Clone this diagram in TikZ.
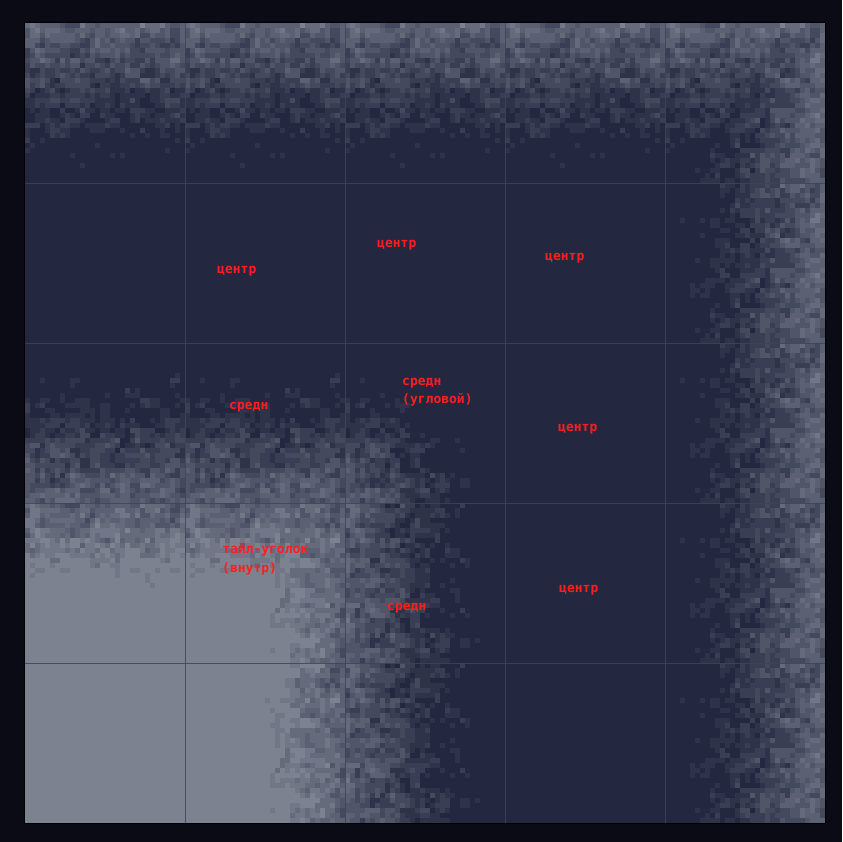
\documentclass[tikz,border=0pt]{standalone}
\usepackage{fontspec}
\newfontfamily\lblfont{DejaVu Sans Mono}
\definecolor{outerbg}{RGB}{11,11,22}
\definecolor{tdark}{RGB}{35,40,64}
\definecolor{tlight}{RGB}{124,130,144}
\colorlet{lv1}{tlight!12.5!tdark}
\colorlet{lv2}{tlight!25!tdark}
\colorlet{lv3}{tlight!37.5!tdark}
\colorlet{lv4}{tlight!50!tdark}
\colorlet{lv5}{tlight!62.5!tdark}
\colorlet{lv6}{tlight!75!tdark}
\colorlet{lv7}{tlight!87.5!tdark}
\colorlet{lv8}{tlight}
\definecolor{gridc}{RGB}{63,68,88}
\definecolor{lblred}{RGB}{255,30,30}
\tikzset{
  gridline/.style={draw=gridc, draw opacity=0.85, line width=1pt},
  frameline/.style={draw=black, line width=1pt},
  lbl/.style={text=lblred, font=\lblfont\bfseries\fontsize{13}{18.5}\selectfont,
    inner sep=0pt, anchor=base west, align=left}
}
% ---------- integer tools ----------
\newcount\ci \newcount\cj \newcount\ha \newcount\hb \newcount\hc
\newcount\cX \newcount\cY \newcount\cv \newcount\cl
\newcount\dx \newcount\dy \newcount\rl \newcount\rs \newcount\tv
\def\imodto#1#2#3{#1=\numexpr #2\relax #1=\numexpr #1-(#3)*((#1-((#3)-1)/2)/(#3))\relax}
\def\hashto#1#2#3#4{%
  \imodto#1{(#2)*1973+(#3)*9277+#4}{46337}%
  \imodto#1{#1*#1+(#2)*31+7}{46337}%
  \imodto#1{#1*#1+(#3)*17+3}{46337}%
  #1=\numexpr #1*1000/46337\relax}
\def\NZA{370}
\def\nzval{%
  \hashto\ha{\ci}{\cj}{12345}%
  \hashto\hb{(\ci/2)}{(\cj/2)}{777}%
  \hashto\hc{(\ci/3)}{(\cj/3)}{4242}%
  \expandafter\xdef\csname nz\the\ci:\the\cj\endcsname{\the\numexpr((\ha*35+\hb*40+\hc*25)/100-500)*\NZA/500\relax}}
\def\nzrow{\ifnum\cj<32 \ci=0 \nzcol \advance\cj by 1 \expandafter\nzrow\fi}
\def\nzcol{\ifnum\ci<32 \nzval \advance\ci by 1 \expandafter\nzcol\fi}
\cj=0 \nzrow
% ---------- field ----------
\def\cellval{%
  \ifnum\cX<64
    \ifnum\cY>95
      \dx=\numexpr64-\cX\relax \dy=\numexpr\cY-95\relax
      \ifnum\dy<\dx \dx=\dy\fi
      \cv=\numexpr620+35*\dx\relax
    \else
      \cv=\numexpr644-28*(96-\cY)\relax
    \fi
  \else
    \ifnum\cY>95
      \cv=\numexpr644-28*(\cX-63)\relax
    \else
      \dx=\numexpr\cX-63\relax \dy=\numexpr96-\cY\relax
      \ifnum\dx<26
        \ifnum\dy<26
          \cv=\numexpr644-\fpeval{round(28*sqrt(\the\dx*\the\dx+\the\dy*\the\dy))}\relax
        \else \cv=-1000 \fi
      \else \cv=-1000 \fi
    \fi
  \fi
  \tv=\numexpr30*(23-\cY)\relax \ifnum\tv>\cv \cv=\tv\fi
  \tv=\numexpr30*(\cX-136)\relax \ifnum\tv>\cv \cv=\tv\fi
  \ci=\numexpr\cX-32*((2*\cX-31)/64)\relax
  \cj=\numexpr\cY-32*((2*\cY-31)/64)\relax
  \advance\cv by \csname nz\the\ci:\the\cj\endcsname\relax
  \cl=\numexpr(\cv-62)/125\relax
  \ifnum\cl<0 \cl=0 \fi
  \ifnum\cl>8 \cl=8 \fi}
\def\flushrun{\ifnum\rl>0
  \edef\runcol{lv\the\rl}%
  \pgfsetfillcolor{\runcol}%
  \pgfpathrectangle{\pgfqpoint{\dimexpr25pt+5pt*\rs\relax}{\dimexpr-28.4pt-5pt*\cY\relax}}%
    {\pgfqpoint{\dimexpr5pt*\numexpr\cX-\rs\relax+0.4pt\relax}{5.4pt}}%
  \pgfusepath{fill}\fi}
\def\mainrow{\ifnum\cY<160 \cX=0 \rl=-1 \rs=0 \maincol \flushrun \advance\cY by 1 \expandafter\mainrow\fi}
\def\maincol{\ifnum\cX<160 \cellval \ifnum\cl=\rl\else \flushrun \rl=\cl \rs=\cX \fi \advance\cX by 1 \expandafter\maincol\fi}
\begin{document}
\begin{tikzpicture}[x=1pt,y=-1pt]
\fill[outerbg] (0,0) rectangle (842,842);
\useasboundingbox (0,0) rectangle (842,842);
\fill[tdark] (25,23) rectangle (825,823);
\cY=0 \mainrow
% grid
\foreach \g in {185.5,345.5,505.5,665.5} {
  \draw[gridline] (\g,23) -- (\g,823);
}
\foreach \g in {183.5,343.5,503.5,663.5} {
  \draw[gridline] (25,\g) -- (825,\g);
}
\draw[frameline] (24.5,22.5) rectangle (825.5,823.5);
% labels
\node[lbl] (c11) at (217,273) {центр};
\node[lbl] (c12) at (377,247) {центр};
\node[lbl] (c13) at (545,260) {центр};
\node[lbl] (m21) at (229,409) {средн};
\node[lbl] (m22) at (402,403.5) {средн\\(угловой)};
\node[lbl] (c23) at (558,431) {центр};
\node[lbl] (k31) at (222,572) {тайл-уголок\\(внутр)};
\node[lbl] (m32) at (387,610) {средн};
\node[lbl] (c33) at (559,592) {центр};
\end{tikzpicture}
\end{document}
